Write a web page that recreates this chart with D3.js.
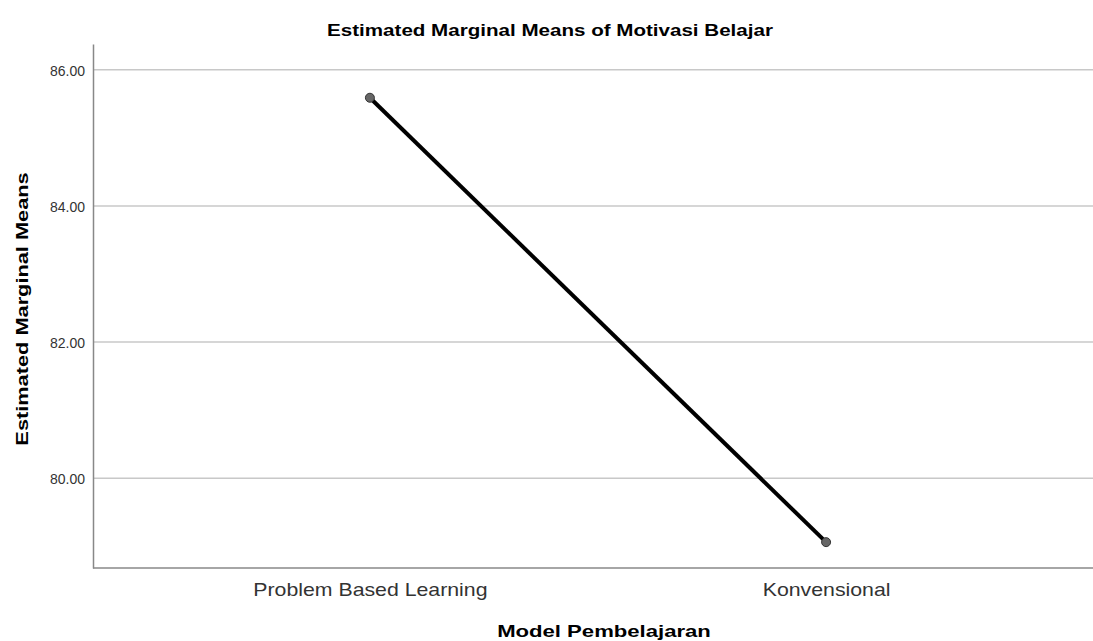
<!DOCTYPE html>
<html>
<head>
<meta charset="utf-8">
<script src="https://cdn.jsdelivr.net/npm/d3@7"></script>
<style>
  body { margin: 0; background: #fff; }
  text { font-family: "Liberation Sans", Arial, sans-serif; }
</style>
</head>
<body>
<div id="chart"></div>
<script>
// data
var groups = ["Problem Based Learning", "Konvensional"];
var means = [85.59, 79.06];
var yTicks = [80, 82, 84, 86];

var width = 1093, height = 641;
var margin = {top: 44, right: 0, bottom: 73, left: 93};

// the original font is wider than Arial, so stretch text along its baseline
function stretch(sel, k) {
    sel.each(function() {
        var w = this.getComputedTextLength();
        d3.select(this)
            .attr("textLength", w * k)
            .attr("lengthAdjust", "spacingAndGlyphs");
    });
}

var svg = d3.select("#chart").append("svg")
    .attr("width", width)
    .attr("height", height);

var x = d3.scalePoint()
    .domain(groups)
    .range([margin.left, 1103])
    .padding(0.607);

var y = d3.scaleLinear()
    .domain([78.68, 86.38])
    .range([height - margin.bottom, margin.top]);

// gridlines
svg.append("g")
    .selectAll("line")
    .data(yTicks)
    .enter().append("line")
    .attr("x1", margin.left)
    .attr("x2", width)
    .attr("y1", function(d) { return y(d); })
    .attr("y2", function(d) { return y(d); })
    .attr("stroke", "#c8c8c8")
    .attr("stroke-width", 1.5);

// y axis
var yAxis = svg.append("g")
    .attr("transform", "translate(" + margin.left + ",0)")
    .call(d3.axisLeft(y).tickValues(yTicks).tickSize(0).tickPadding(8)
        .tickFormat(d3.format(".2f")));
yAxis.select(".domain").attr("stroke", "#888").attr("stroke-width", 1.5);
yAxis.selectAll("text").attr("font-size", 14).attr("fill", "#333")
    .attr("dy", "0.4em")
    .style("font-family", "Liberation Sans, Arial, sans-serif");

// x axis
var xAxis = svg.append("g")
    .attr("transform", "translate(0," + (height - margin.bottom) + ")")
    .call(d3.axisBottom(x).tickSize(0).tickPadding(14));
xAxis.select(".domain").remove();
xAxis.selectAll("text").attr("font-size", 18.5).attr("fill", "#333")
    .attr("y", 28).attr("dy", 0)
    .style("font-family", "Liberation Sans, Arial, sans-serif")
    .call(stretch, 1.15);
svg.append("line")
    .attr("x1", margin.left)
    .attr("x2", width)
    .attr("y1", height - margin.bottom)
    .attr("y2", height - margin.bottom)
    .attr("stroke", "#888")
    .attr("stroke-width", 1.5);

// line
var pts = groups.map(function(g, i) { return {g: g, v: means[i]}; });
svg.append("path")
    .datum(pts)
    .attr("fill", "none")
    .attr("stroke", "#000")
    .attr("stroke-width", 4)
    .attr("d", d3.line()
        .x(function(d) { return x(d.g); })
        .y(function(d) { return y(d.v); }));

svg.selectAll(".pt")
    .data(pts)
    .enter().append("circle")
    .attr("class", "pt")
    .attr("cx", function(d) { return x(d.g); })
    .attr("cy", function(d) { return y(d.v); })
    .attr("r", 4.5)
    .attr("fill", "#666")
    .attr("stroke", "#333")
    .attr("stroke-width", 1);

// titles
svg.append("text")
    .attr("x", 550)
    .attr("y", 36)
    .attr("text-anchor", "middle")
    .attr("font-size", 17)
    .attr("font-weight", "bold")
    .text("Estimated Marginal Means of Motivasi Belajar")
    .call(stretch, 1.21);

svg.append("text")
    .attr("x", 604)
    .attr("y", 637)
    .attr("text-anchor", "middle")
    .attr("font-size", 17)
    .attr("font-weight", "bold")
    .text("Model Pembelajaran")
    .call(stretch, 1.3);

svg.append("text")
    .attr("transform", "translate(28,309) rotate(-90)")
    .attr("text-anchor", "middle")
    .attr("font-size", 17)
    .attr("font-weight", "bold")
    .text("Estimated Marginal Means")
    .call(stretch, 1.28);
</script>
</body>
</html>
